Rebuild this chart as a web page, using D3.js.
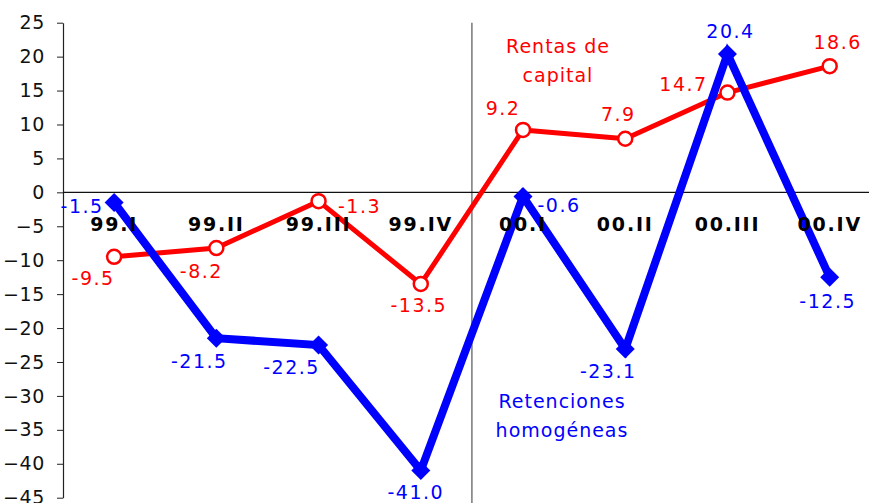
<!DOCTYPE html>
<html>
<head>
<meta charset="utf-8">
<script src="https://cdn.jsdelivr.net/npm/d3@7"></script>
<style>
  body { margin: 0; background: #fff; }
  text { font-family: "DejaVu Sans", Verdana, sans-serif; }
</style>
</head>
<body>
<div id="chart"></div>
<script>
// Trimestres
const categories = ["99.I", "99.II", "99.III", "99.IV", "00.I", "00.II", "00.III", "00.IV"];
// Rentas de capital
const rentas = [-9.5, -8.2, -1.3, -13.5, 9.2, 7.9, 14.7, 18.6];
// Retenciones homogéneas
const retenciones = [-1.5, -21.5, -22.5, -41.0, -0.6, -23.1, 20.4, -12.5];
const yTicks = [-45, -40, -35, -30, -25, -20, -15, -10, -5, 0, 5, 10, 15, 20, 25];

// label offsets (dx, dy) from each marker
const rentasLabelPos = [[-21, 28], [-15, 30], [41, 12], [-2, 28], [-20, -15], [-7, -18], [-44, -2], [8, -17]];
const retLabelPos = [[-32, 10], [-17, 30], [-27, 29], [-5, 28], [36, 16], [-17, 29], [3, -16], [-2, 31]];

const W = 869, H = 503;
const RED = "#ff0000", BLUE = "#0000ff";

const svg = d3.select("#chart").append("svg")
  .attr("width", W).attr("height", H);

const x = d3.scaleBand().domain(categories).range([63, 880.8]);
const cx = d => x(d) + x.bandwidth() / 2;
const y = d3.scaleLinear().domain([-45, 25]).range([497.7, 22.7]);

// Y axis
const yAxis = svg.append("g")
  .attr("transform", "translate(63,0)")
  .call(d3.axisLeft(y).tickValues(yTicks).tickSize(6).tickSizeOuter(0).tickPadding(12));
yAxis.select(".domain").attr("stroke", "#222").attr("stroke-width", 1.2);
yAxis.selectAll(".tick line").attr("stroke", "#222");
yAxis.selectAll(".tick text")
  .attr("font-size", 19).attr("fill", "#111")
  .style("letter-spacing", "0.6px");

// Divider between years
svg.append("line")
  .attr("x1", x("00.I")).attr("x2", x("00.I"))
  .attr("y1", y(25)).attr("y2", H)
  .attr("stroke", "#777").attr("stroke-width", 1.5);

// zero line
svg.append("line")
  .attr("x1", 63).attr("x2", W)
  .attr("y1", y(0)).attr("y2", y(0))
  .attr("stroke", "#111").attr("stroke-width", 1.2);

const line = d3.line().x((d, i) => cx(categories[i])).y(d => y(d));

svg.append("path").datum(rentas)
  .attr("d", line).attr("fill", "none")
  .attr("stroke", RED).attr("stroke-width", 5).attr("stroke-linejoin", "round");

svg.append("path").datum(retenciones)
  .attr("d", line).attr("fill", "none")
  .attr("stroke", BLUE).attr("stroke-width", 8).attr("stroke-linejoin", "miter");

// diamonds
const dm = 9.5;
svg.append("g").selectAll("path").data(retenciones).join("path")
  .attr("transform", (d, i) => `translate(${cx(categories[i])},${y(d)})`)
  .attr("d", `M0,${-dm}L${dm},0L0,${dm}L${-dm},0Z`)
  .attr("fill", BLUE);

// circles
svg.append("g").selectAll("circle").data(rentas).join("circle")
  .attr("cx", (d, i) => cx(categories[i])).attr("cy", d => y(d))
  .attr("r", 7).attr("fill", "#fff")
  .attr("stroke", RED).attr("stroke-width", 2.5);

// category labels, drawn over the lines
const xAxis = svg.append("g")
  .attr("transform", `translate(0,${y(0)})`)
  .call(d3.axisBottom(x).tickSize(0).tickSizeOuter(0));
xAxis.select(".domain").remove();
xAxis.selectAll(".tick text")
  .attr("y", 39).attr("dy", 0)
  .attr("font-size", 19).attr("font-weight", "bold").attr("fill", "#000")
  .style("letter-spacing", "1.8px");

// value labels
function valueLabels(vals, pos, color) {
  svg.append("g").selectAll("text").data(vals).join("text")
    .attr("x", (d, i) => cx(categories[i]) + pos[i][0])
    .attr("y", (d, i) => y(d) + pos[i][1])
    .attr("text-anchor", "middle")
    .attr("font-size", 19).attr("fill", color)
    .style("letter-spacing", "1.5px")
    .text(d => d.toFixed(1));
}
valueLabels(rentas, rentasLabelPos, RED);
valueLabels(retenciones, retLabelPos, BLUE);

// series names
const notes = [
  { lines: ["Rentas de", "capital"], cat: "00.I", dx: 35, v: 20.6, color: RED },
  { lines: ["Retenciones", "homogéneas"], cat: "00.I", dx: 39, v: -31.8, color: BLUE }
];
notes.forEach(n => {
  const t = svg.append("text")
    .attr("x", cx(n.cat) + n.dx).attr("y", y(n.v))
    .attr("text-anchor", "middle")
    .attr("font-size", 19).attr("fill", n.color)
    .style("letter-spacing", "1px");
  n.lines.forEach((l, i) => {
    t.append("tspan")
      .attr("x", cx(n.cat) + n.dx)
      .attr("dy", i === 0 ? 0 : 29)
      .text(l);
  });
});
</script>
</body>
</html>
